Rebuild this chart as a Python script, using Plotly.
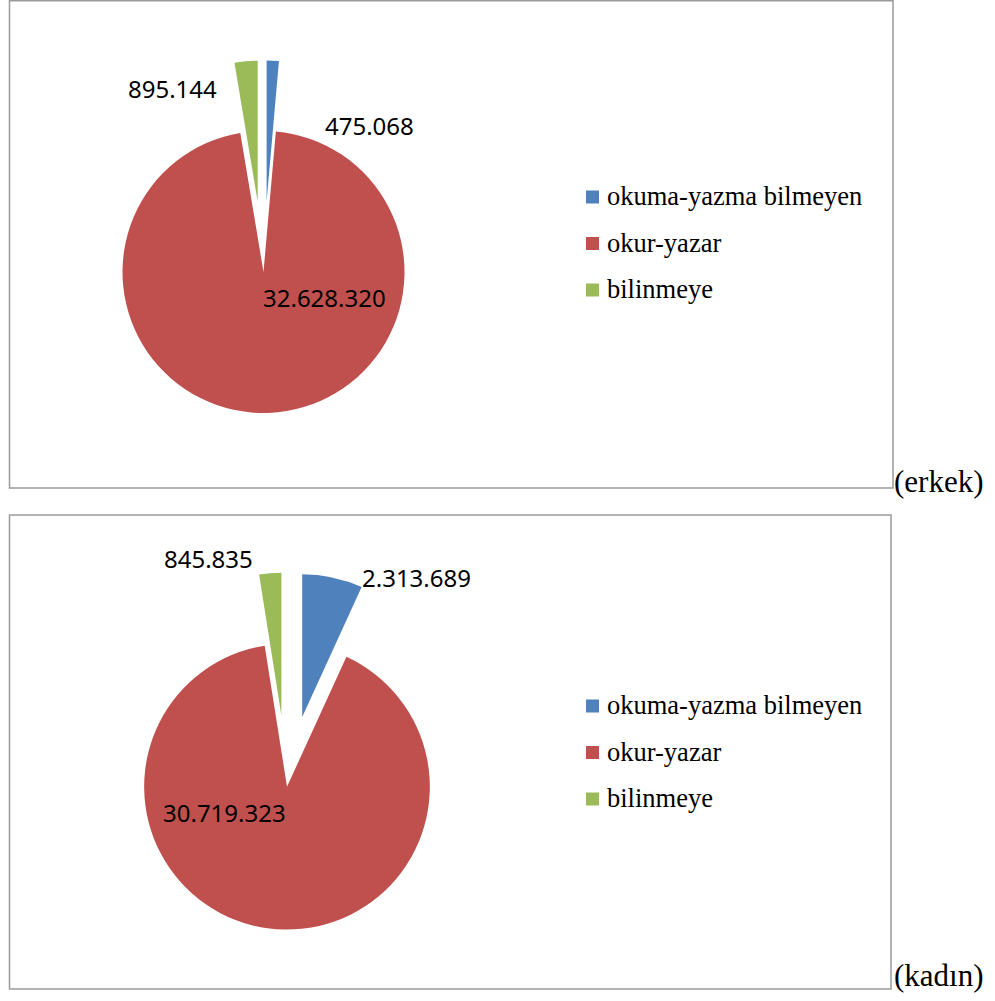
import plotly.graph_objects as go

# kategoriler ve renkler
categories = ["okuma-yazma bilmeyen", "okur-yazar", "bilinmeye"]
colors = ["#4F81BD", "#C0504D", "#9BBB59"]
pulls = [0.5, 0.0, 0.5]

erkek_values = [475068, 32628320, 895144]
kadin_values = [2313689, 30719323, 845835]

W, H = 995, 1001
SERIF = "Liberation Serif"


def fmt(v):
    return f"{v:,}".replace(",", ".")


def px(x, y):
    # ekran pikseli -> paper koordinat
    return x / W, 1 - y / H


fig = go.Figure()

# ── pastalar ──
for vals, (x0, y0, x1, y1) in ((erkek_values, (52, 60.5, 475, 483.5)),
                               (kadin_values, (72.5, 572.5, 501.5, 1001.5))):
    dx0, dy1 = px(x0, y0)
    dx1, dy0 = px(x1, y1)
    fig.add_trace(go.Pie(
        labels=categories, values=vals, sort=False,
        direction="clockwise", rotation=0, pull=pulls,
        marker=dict(colors=colors, line=dict(width=0)),
        textinfo="none", showlegend=False,
        domain=dict(x=[dx0, dx1], y=[max(dy0, 0), min(dy1, 1)]),
    ))

annotations = []
shapes = []

# ── veri etiketleri ──
label_pos_erkek = [(369, 126), (324, 297), (172, 89)]
label_pos_kadin = [(416, 577), (224, 812), (208, 558)]
for vals, poss in ((erkek_values, label_pos_erkek), (kadin_values, label_pos_kadin)):
    for v, (x, y) in zip(vals, poss):
        ax, ay = px(x, y)
        annotations.append(dict(
            x=ax, y=ay, xref="paper", yref="paper", text=fmt(v), showarrow=False,
            xanchor="center", yanchor="middle",
            font=dict(family="Noto Sans", size=24, color="black"),
        ))

# ── lejantlar (kare + metin) ──
for y_first in (197, 706):
    for i, (cat, col) in enumerate(zip(categories, colors)):
        yc = y_first + i * 46.5
        a0, b1 = px(586, yc - 6.5)
        a1, b0 = px(599, yc + 6.5)
        shapes.append(dict(type="rect", xref="paper", yref="paper",
                           x0=a0, x1=a1, y0=b0, y1=b1,
                           fillcolor=col, line=dict(width=0)))
        tx, ty = px(605, yc - 1)
        annotations.append(dict(
            x=tx, y=ty, xref="paper", yref="paper", text=cat, showarrow=False,
            xanchor="left", yanchor="middle",
            font=dict(family=SERIF, size=26.5, color="black"),
        ))

for txt, (x, y) in (("(erkek)", (892, 481)), ("(kadın)", (892, 975))):
    ax, ay = px(x, y)
    annotations.append(dict(
        x=ax, y=ay, xref="paper", yref="paper", text=txt, showarrow=False,
        xanchor="left", yanchor="middle",
        font=dict(family=SERIF, size=31, color="black"),
    ))

# çerçeveler
box_style = dict(type="rect", xref="paper", yref="paper",
                 line=dict(color="#9a9a9a", width=1.5), fillcolor="rgba(0,0,0,0)")
for (x0, y0, x1, y1) in ((9.5, 0.8, 893, 488), (9.5, 515, 891, 989)):
    a0, b1 = px(x0, y0)
    a1, b0 = px(x1, y1)
    shapes.append(dict(x0=a0, x1=a1, y0=b0, y1=b1, **box_style))

fig.update_layout(
    width=W, height=H,
    margin=dict(l=0, r=0, t=0, b=0),
    paper_bgcolor="white", plot_bgcolor="white",
    showlegend=False,
    annotations=annotations,
    shapes=shapes,
)

# sayfanın varsayılan 8px kenar boşluğunu kaldır
fig.write_html("out.html", config={"displayModeBar": False},
               post_script="document.body.style.margin='0';")
